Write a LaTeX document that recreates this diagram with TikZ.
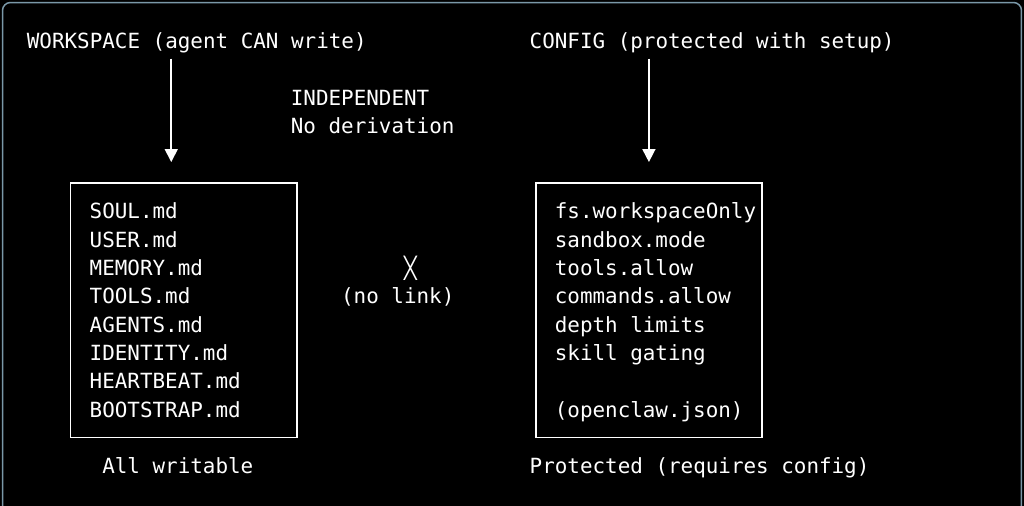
\documentclass[tikz,border=0pt]{standalone}
\usepackage{fontspec}
\setmonofont{DejaVu Sans Mono}
\usetikzlibrary{arrows.meta,positioning,fit}
\definecolor{frame}{HTML}{7A98A8}
\tikzset{
  >=Stealth,
  txt/.style={anchor=base west, inner sep=0pt, text=white, font=\ttfamily\fontsize{20.9}{25}\selectfont},
  filebox/.style={draw=white, line width=1.6pt, inner sep=0pt},
  flow/.style={-{Triangle[width=13pt,length=13pt]}, draw=white, line width=1.6pt, shorten <=5pt}
}

\begin{document}
\begin{tikzpicture}[x=12.57pt,y=-28.33pt]

    % === Terminal background ===
    \useasboundingbox (-2.124,-1.7296) rectangle (79.34,16.131);
    \fill[black] (-2.124,-1.7296) rectangle (79.34,16.131);
    \draw[frame, line width=1.5pt, rounded corners=8pt] (-1.925,-1.641) rectangle (79.14,17);

    % === Left column: workspace ===
    \node[txt] (wstitle) at (0,0) {WORKSPACE (agent CAN write)};
    \coordinate (wsin) at (11.5,3.99);
    \draw[flow] (wstitle.south -| wsin) -- (wsin);

    \node[filebox, fit={(3.5,4.72) (21.5,13.72)}] (wsbox) {};
    \foreach \f [count=\i from 6] in {SOUL.md, USER.md, MEMORY.md, TOOLS.md,
        AGENTS.md, IDENTITY.md, HEARTBEAT.md, BOOTSTRAP.md} {
        \node[txt] (ws\i) at (5,\i) {\f};
    }
    \node[txt] (wsnote) at (6,15) {All writable};

    % === Middle ===
    \node[txt] (indep) at (21,2) {INDEPENDENT};
    \node[txt] (noderiv) at (21,3) {No derivation};
    \node[txt] (cross) at (30,8) {╳};
    \node[txt] (nolink) at (25,9) {(no link)};

    % === Right column: config ===
    \node[txt] (cftitle) at (40,0) {CONFIG (protected with setup)};
    \coordinate (cfin) at (49.5,3.99);
    \draw[flow] (cftitle.south -| cfin) -- (cfin);

    \node[filebox, fit={(40.5,4.72) (58.5,13.72)}] (cfbox) {};
    \foreach \f [count=\i from 6] in {fs.workspaceOnly, sandbox.mode, tools.allow,
        commands.allow, depth limits, skill gating} {
        \node[txt] (cf\i) at (42,\i) {\f};
    }
    \node[txt] (cfjson) at (42,13) {(openclaw.json)};
    \node[txt] (cfnote) at (40,15) {Protected (requires config)};

\end{tikzpicture}
\end{document}
